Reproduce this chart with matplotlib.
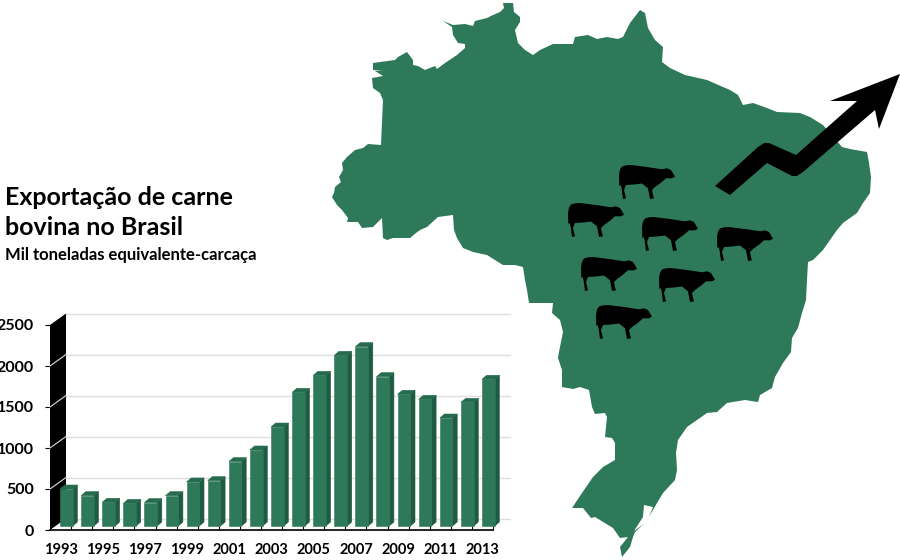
import matplotlib
matplotlib.use('Agg')
import matplotlib.pyplot as plt
from matplotlib.patches import Polygon

plt.rcParams['font.family'] = ['Lato', 'DejaVu Sans']

# dados do grafico
ANOS = list(range(1993, 2014))
EXPORTACAO = [451, 370, 289, 276, 285, 370, 537, 553, 785, 927, 1207,
              1630, 1837, 2081, 2187, 1821, 1606, 1545, 1317, 1508, 1789]
Y_TICKS = [0, 500, 1000, 1500, 2000, 2500]

# contorno do mapa, em pixels da imagem
MAPA_X = [373, 395, 398, 407, 413, 413, 418, 425, 435, 437, 445, 457, 465, 465, 458, 453, 452, 443,
          453, 465, 473, 475, 487, 493, 500, 504, 503, 513, 514, 520, 520, 515, 518, 525, 533, 540, 553,
          573, 575, 588, 597, 607, 618, 623, 630, 640, 645, 648, 655, 663, 662, 670, 685, 707, 730,
          738, 743, 753, 767, 777, 800, 810, 823, 842, 850, 867, 869, 871, 870, 863, 857, 843, 837, 830,
          823, 813, 808, 807, 806, 802, 798, 792, 791, 783, 775, 772, 760, 758, 745, 727, 717, 707, 697,
          687, 678, 676, 677, 675, 663, 657, 653, 645, 635, 633, 630, 622, 620, 628, 620, 613, 595, 591,
          583, 572, 582, 593, 603, 615, 615, 612, 605, 607, 605, 595, 592, 589, 580, 573, 562, 562, 558,
          559, 563, 560, 552, 553, 529, 527, 525, 523, 515, 503, 487, 473, 463, 457, 454, 453, 438, 427,
          420, 416, 410, 393, 387, 383, 382, 373, 362, 358, 347, 348, 342, 337, 332, 334, 335, 341, 339,
          343, 342, 347, 355, 363, 368, 381, 383, 380, 373, 372, 383, 375, 383, 373]
MAPA_Y = [63, 60, 57, 52, 60, 65, 66, 70, 66, 69, 63, 55, 48, 44, 43, 35, 27, 21,
          25, 24, 26, 21, 18, 15, 12, 8, 3, 3, 12, 17, 22, 30, 43, 50, 55, 50, 44,
          44, 37, 35, 39, 37, 39, 37, 23, 10, 13, 28, 40, 47, 62, 68, 75, 80, 90,
          95, 105, 103, 108, 112, 113, 117, 125, 147, 149, 152, 163, 177, 193, 203, 213, 223, 230, 240,
          250, 260, 262, 280, 300, 313, 328, 338, 352, 363, 377, 388, 395, 402, 400, 403, 412, 413, 420,
          427, 440, 453, 470, 480, 493, 503, 510, 523, 532, 537, 547, 557, 547, 537, 538, 528, 517, 518,
          508, 508, 493, 477, 467, 460, 443, 438, 437, 417, 413, 414, 407, 390, 387, 389, 387, 370, 358,
          352, 332, 320, 313, 303, 303, 290, 280, 267, 265, 265, 255, 252, 248, 238, 230, 215, 217, 227,
          230, 233, 238, 238, 240, 238, 218, 227, 228, 222, 222, 218, 210, 205, 197, 193, 187, 182, 177,
          170, 163, 157, 150, 148, 144, 145, 100, 93, 88, 78, 76, 71, 71, 70]
LAGOA_X = [644, 653, 647, 634, 643]
LAGOA_Y = [505, 507, 522, 531, 517]

SETA_X = [715, 730, 767, 792, 797, 803, 875, 879, 900, 830, 857, 796, 769, 764, 758]
SETA_Y = [186, 195, 163, 176, 176, 172, 110, 129, 74, 101, 101, 155, 143, 143, 147]

# silhueta do boi e onde cada um fica
BOI_X = [3, 7, 12, 30, 43, 48, 52, 56, 53, 47, 42, 36, 33, 34, 35, 31, 29, 23, 15, 7, 5, 7, 4, 2.7, 1.7, 0.3, 0, 1]
BOI_Y = [1.5, 0.3, 0, 2.3, 4.3, 3.3, 5, 11.7, 13.3, 13.3, 17.7, 22, 25, 30, 33.3, 34, 23.3, 18.5, 19.5, 20, 25,
         33.3, 34, 24, 20, 21, 10, 4.5]
BOIS_X = [619, 568, 642, 717, 581, 659, 596]
BOIS_Y = [165, 203, 217, 227, 257, 268, 305]

VERDE = '#2E795A'
VERDE_TOPO = '#276B4F'
VERDE_LADO = '#1F5A42'
GRADE = '#DEDEDE'

fig = plt.figure(figsize=(9, 5.6), dpi=100)

# camada do mapa e textos, em pixels
mapa = fig.add_axes([0, 0, 1, 1])
mapa.set_xlim(0, 900)
mapa.set_ylim(560, 0)
mapa.axis('off')
mapa.add_patch(Polygon(list(zip(MAPA_X, MAPA_Y)), closed=True, fc=VERDE, ec='none'))
mapa.add_patch(Polygon(list(zip(LAGOA_X, LAGOA_Y)), closed=True, fc='white', ec='none'))
mapa.add_patch(Polygon(list(zip(SETA_X, SETA_Y)), closed=True, fc='black', ec='none'))
for bx, by in zip(BOIS_X, BOIS_Y):
    pts = [(bx + x, by + y) for x, y in zip(BOI_X, BOI_Y)]
    mapa.add_patch(Polygon(pts, closed=True, fc='black', ec='none'))

mapa.text(5, 205, 'Exportação de carne', fontsize=18, fontweight='bold', va='baseline')
mapa.text(5, 235, 'bovina no Brasil', fontsize=18, fontweight='bold', va='baseline')
mapa.text(5, 260, 'Mil toneladas equivalente-carcaça', fontsize=12, fontweight='bold', va='baseline')

# grafico de barras com cara de 3D
ax = fig.add_axes([50 / 900, 1 - 530 / 560, 443.1 / 900, 205 / 560])
ax.set_xlim(0, 21)
ax.set_ylim(0, 2500)
ax.patch.set_alpha(0)
for s in ax.spines.values():
    s.set_visible(False)

PX_X = 1 / 21.1
PX_Y = 1 / 0.082
fundo_x = 16 * PX_X
fundo_y = 11.5 * PX_Y

for v in Y_TICKS:
    ax.plot([fundo_x, 460 * PX_X], [v + fundo_y, v + fundo_y], color=GRADE, lw=1, clip_on=False, zorder=1)
ax.add_patch(Polygon([(0, 0), (fundo_x, fundo_y), (fundo_x, 2500 + fundo_y), (0, 2500)],
                     closed=True, fc='black', ec='none', clip_on=False, zorder=2))
for v in Y_TICKS[1:-1]:
    ax.plot([0, fundo_x], [v, v + fundo_y], color=GRADE, lw=0.8, clip_on=False, zorder=3)

largura = 12.7 * PX_X
lado = 4.7 * PX_X
base = 4 * PX_Y
topo = 4 * PX_Y
for i, v in enumerate(EXPORTACAO):
    x0 = i + 10 * PX_X
    x1 = x0 + largura
    y1 = base + v
    ax.add_patch(Polygon([(x1, base), (x1 + lado, base + topo), (x1 + lado, y1 + topo), (x1, y1)],
                         closed=True, fc=VERDE_LADO, ec=VERDE_LADO, lw=0.4, clip_on=False, zorder=5))
    ax.add_patch(Polygon([(x0, y1), (x0 + lado, y1 + topo), (x1 + lado, y1 + topo), (x1, y1)],
                         closed=True, fc=VERDE_TOPO, ec=VERDE_TOPO, lw=0.4, clip_on=False, zorder=5))
    ax.bar(x0, v, width=largura, bottom=base, align='edge', color=VERDE, ec=VERDE, lw=0.4,
           zorder=6, clip_on=False)

ax.plot([0, 21], [0, 0], color='black', lw=1.2, clip_on=False, zorder=7)

ax.set_xticks([i + 0.5 for i in range(0, 21, 2)])
ax.set_xticklabels(ANOS[::2], fontsize=10.5, fontweight='bold')
ax.set_xticks(range(1, 22), minor=True)
ax.tick_params(axis='x', which='major', length=0, pad=9)
ax.tick_params(axis='x', which='minor', direction='in', length=3, width=0.8, color='black')
ax.set_yticks(Y_TICKS)
ax.set_yticklabels(Y_TICKS, fontsize=11.5, fontweight='bold')
ax.tick_params(axis='y', length=3.6, width=0.8, color='black', pad=8)

fig.savefig('out.png', dpi=100)
